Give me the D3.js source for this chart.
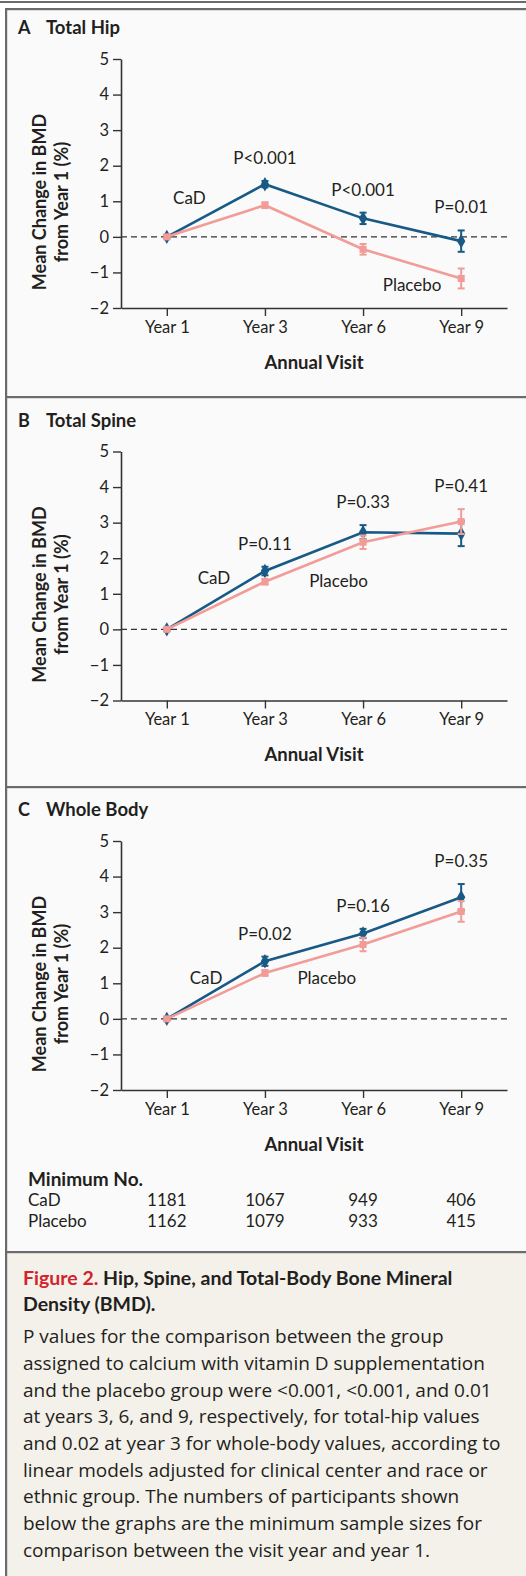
<!DOCTYPE html>
<html>
<head>
<meta charset="utf-8">
<script src="https://cdn.jsdelivr.net/npm/d3@7"></script>
<style>
  html, body { margin: 0; padding: 0; background: #fff; }
  svg { display: block; font-family: Lato, "Noto Sans", sans-serif; }
</style>
</head>
<body>
<div id="chart"></div>
<script>
// visits on the x axis
const years = ["Year 1", "Year 3", "Year 6", "Year 9"];
const yTicks = [-2, -1, 0, 1, 2, 3, 4, 5];

// A - total hip
const hipCaD = [0, 1.48, 0.52, -0.12];
const hipCaDErr = [0.04, 0.09, 0.16, 0.30];
const hipPlacebo = [0, 0.89, -0.35, -1.17];
const hipPlaceboErr = [0.04, 0.08, 0.15, 0.28];
const hipP = ["P<0.001", "P<0.001", "P=0.01"];

// B - total spine
const spineCaD = [0, 1.64, 2.73, 2.69];
const spineCaDErr = [0.04, 0.12, 0.20, 0.35];
const spinePlacebo = [0, 1.34, 2.45, 3.03];
const spinePlaceboErr = [0.04, 0.08, 0.19, 0.35];
const spineP = ["P=0.11", "P=0.33", "P=0.41"];

// C - whole body
const bodyCaD = [0, 1.62, 2.40, 3.42];
const bodyCaDErr = [0.04, 0.13, 0.13, 0.37];
const bodyPlacebo = [0, 1.29, 2.09, 3.02];
const bodyPlaceboErr = [0.04, 0.08, 0.19, 0.29];
const bodyP = ["P=0.02", "P=0.16", "P=0.35"];

// minimum numbers under the graphs
const minCaD = [1181, 1067, 949, 406];
const minPlacebo = [1162, 1079, 933, 415];

const W = 526, H = 1576;
const blue = "#185a86", pink = "#f29c98", ink = "#231f20", frame = "#6b6b6b";

const svg = d3.select("#chart").append("svg")
  .attr("width", W)
  .attr("height", H);

// frame and backgrounds
svg.append("rect").attr("x", 6).attr("y", 9).attr("width", W - 6).attr("height", 1244).attr("fill", "#fafafa");
svg.append("rect").attr("x", 6).attr("y", 1252).attr("width", W - 6).attr("height", H - 1252).attr("fill", "#f4f1ea");
svg.append("rect").attr("x", 0).attr("y", 1).attr("width", W).attr("height", 2).attr("fill", frame);
[9, 397, 787, 1252].forEach(y => {
  svg.append("rect").attr("x", 5).attr("y", y - 1).attr("width", W - 5).attr("height", 2.2).attr("fill", frame);
});
svg.append("rect").attr("x", 5).attr("y", 8).attr("width", 2.2).attr("height", H - 8).attr("fill", frame);

const panels = [
  { letter: "A", title: "Total Hip", top: 59, cad: hipCaD, cadErr: hipCaDErr, pla: hipPlacebo, plaErr: hipPlaceboErr, p: hipP,
    cadLabel: [0.23, 1.10], plaLabel: [2.5, -1.36] },
  { letter: "B", title: "Total Spine", top: 451.5, cad: spineCaD, cadErr: spineCaDErr, pla: spinePlacebo, plaErr: spinePlaceboErr, p: spineP,
    cadLabel: [0.48, 1.46], plaLabel: [1.75, 1.36] },
  { letter: "C", title: "Whole Body", top: 841, cad: bodyCaD, cadErr: bodyCaDErr, pla: bodyPlacebo, plaErr: bodyPlaceboErr, p: bodyP,
    cadLabel: [0.40, 1.15], plaLabel: [1.63, 1.15] }
];

const left = 121, right = 507, plotH = 249;

const x = d3.scalePoint().domain(years).range([left, right]).padding(0.467);
// fractional positions for the in-plot labels
const xi = d3.scaleLinear().domain([0, years.length - 1]).range([x(years[0]), x(years[years.length - 1])]);

panels.forEach(pn => {
  const g = svg.append("g");
  const y = d3.scaleLinear().domain([-2, 5]).range([pn.top + plotH, pn.top]);

  g.append("text").attr("x", 18).attr("y", pn.top - 25)
    .attr("font-size", 18).attr("font-weight", 700).attr("fill", ink).text(pn.letter);
  g.append("text").attr("x", 46).attr("y", pn.top - 25)
    .attr("font-size", 18.5).attr("font-weight", 700).attr("fill", ink).text(pn.title);

  // axes
  const yAxis = g.append("g").attr("transform", `translate(${left},0)`)
    .call(d3.axisLeft(y).tickValues(yTicks).tickSize(8).tickSizeOuter(0).tickPadding(4)
      .tickFormat(d => d < 0 ? "\u2212" + Math.abs(d) : d));
  const xAxis = g.append("g").attr("transform", `translate(0,${pn.top + plotH})`)
    .call(d3.axisBottom(x).tickSize(8).tickSizeOuter(0).tickPadding(5));
  [yAxis, xAxis].forEach(a => {
    a.select(".domain").attr("stroke", "#333").attr("stroke-width", 1.6);
    a.selectAll(".tick line").attr("stroke", "#333").attr("stroke-width", 1.4);
    a.selectAll(".tick text").attr("fill", ink).attr("font-size", 16.5).attr("font-family", "Lato, 'Noto Sans', sans-serif");
  });

  g.append("text").attr("x", (left + right) / 2).attr("y", pn.top + plotH + 60.5)
    .attr("text-anchor", "middle").attr("font-size", 18.5).attr("font-weight", 700).attr("fill", ink).text("Annual Visit");

  [["Mean Change in BMD", 46], ["from Year 1 (%)", 68]].forEach(([t, bx]) => {
    g.append("text").attr("transform", `translate(${bx},${pn.top + 143}) rotate(-90)`)
      .attr("text-anchor", "middle").attr("font-size", 18).attr("font-weight", 700).attr("fill", ink).text(t);
  });

  // reference line at zero
  g.append("line").attr("x1", left).attr("x2", right).attr("y1", y(0)).attr("y2", y(0))
    .attr("stroke", "#333").attr("stroke-width", 1.4).attr("stroke-dasharray", "6,4");

  const series = [
    { vals: pn.cad, err: pn.cadErr, color: blue, shape: d3.symbolDiamond, size: 60 },
    { vals: pn.pla, err: pn.plaErr, color: pink, shape: d3.symbolSquare, size: 50 }
  ];

  series.forEach(s => {
    const pts = s.vals.map((v, i) => ({ yr: years[i], v, e: s.err[i] }));
    g.append("path").datum(pts)
      .attr("fill", "none").attr("stroke", s.color).attr("stroke-width", 2.6)
      .attr("d", d3.line().x(d => x(d.yr)).y(d => y(d.v)));

    const eb = g.selectAll(null).data(pts).enter().append("g").attr("stroke", s.color).attr("stroke-width", 2);
    eb.append("line").attr("x1", d => x(d.yr)).attr("x2", d => x(d.yr))
      .attr("y1", d => y(d.v - d.e)).attr("y2", d => y(d.v + d.e));
    [-1, 1].forEach(sign => {
      eb.append("line").attr("x1", d => x(d.yr) - 3.5).attr("x2", d => x(d.yr) + 3.5)
        .attr("y1", d => y(d.v + sign * d.e)).attr("y2", d => y(d.v + sign * d.e));
    });

    g.selectAll(null).data(pts).enter().append("path")
      .attr("transform", d => `translate(${x(d.yr)},${y(d.v)})`)
      .attr("d", d3.symbol().type(s.shape).size(s.size))
      .attr("fill", s.color);
  });

  // P values above the highest error bar of each visit
  pn.p.forEach((t, k) => {
    const i = k + 1;
    const topV = Math.max(pn.cad[i] + pn.cadErr[i], pn.pla[i] + pn.plaErr[i]);
    g.append("text").attr("x", x(years[i])).attr("y", y(topV) - 17)
      .attr("text-anchor", "middle").attr("font-size", 17).attr("fill", ink).text(t);
  });

  g.append("text").attr("x", xi(pn.cadLabel[0])).attr("y", y(pn.cadLabel[1]))
    .attr("dy", "0.36em").attr("text-anchor", "middle").attr("font-size", 17).attr("fill", ink).text("CaD");
  g.append("text").attr("x", xi(pn.plaLabel[0])).attr("y", y(pn.plaLabel[1]))
    .attr("dy", "0.36em").attr("text-anchor", "middle").attr("font-size", 17).attr("fill", ink).text("Placebo");
});

// minimum numbers table
svg.append("text").attr("x", 28).attr("y", 1185.5).attr("font-size", 19).attr("font-weight", 700).attr("fill", ink).text("Minimum No.");
[["CaD", minCaD, 1206], ["Placebo", minPlacebo, 1226.5]].forEach(([lab, nums, by]) => {
  svg.append("text").attr("x", 28).attr("y", by).attr("font-size", 17).attr("fill", ink).text(lab);
  svg.selectAll(null).data(nums).enter().append("text")
    .attr("x", (d, i) => x(years[i])).attr("y", by)
    .attr("text-anchor", "middle").attr("font-size", 17).attr("fill", ink).text(d => d);
});

// caption
const cap = svg.append("g").attr("fill", ink);
const t1 = cap.append("text").attr("x", 23).attr("y", 1285).attr("font-size", 19.5).attr("font-weight", 700);
t1.append("tspan").attr("fill", "#d2232a").text("Figure 2.");
t1.append("tspan").text(" Hip, Spine, and Total-Body Bone Mineral");
cap.append("text").attr("x", 23).attr("y", 1311).attr("font-size", 19.5).attr("font-weight", 700).text("Density (BMD).");

const body = [
  "P values for the comparison between the group",
  "assigned to calcium with vitamin D supplementation",
  "and the placebo group were <0.001, <0.001, and 0.01",
  "at years 3, 6, and 9, respectively, for total-hip values",
  "and 0.02 at year 3 for whole-body values, according to",
  "linear models adjusted for clinical center and race or",
  "ethnic group. The numbers of participants shown",
  "below the graphs are the minimum sample sizes for",
  "comparison between the visit year and year 1."
];
cap.selectAll(null).data(body).enter().append("text")
  .attr("x", 23).attr("y", (d, i) => 1343.3 + i * 26.65)
  .attr("font-family", "'Open Sans', 'Noto Sans', sans-serif")
  .attr("font-size", 19).text(d => d);
</script>
</body>
</html>
